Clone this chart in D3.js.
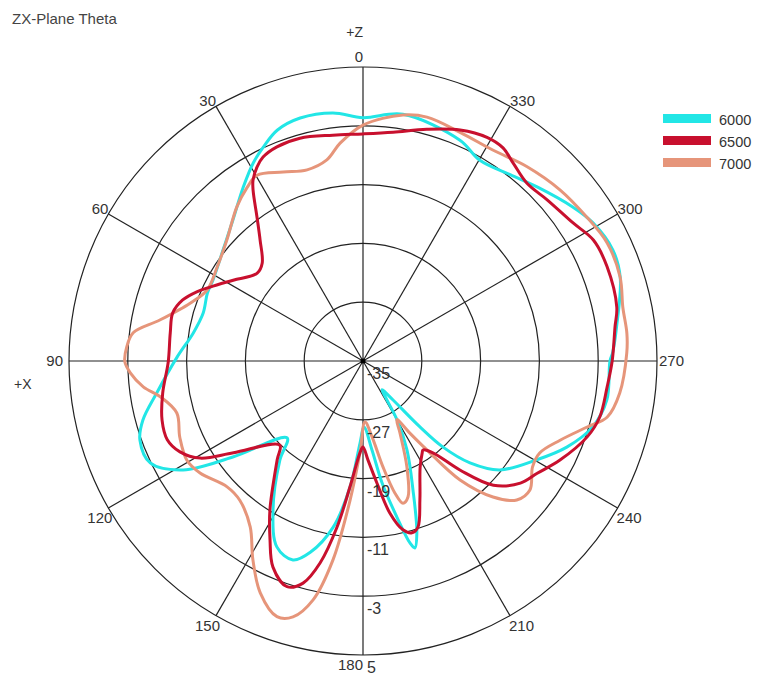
<!DOCTYPE html>
<html><head><meta charset="utf-8">
<script src="https://cdn.jsdelivr.net/npm/d3@7"></script>
<style>
body{margin:0;background:#fff;}
svg{display:block;}
text{font-family:"Liberation Sans",Arial,sans-serif;fill:#333;}
</style>
</head><body>
<svg id="chart" width="757" height="682"></svg>
<script>
const title = "ZX-Plane Theta";
const seriesNames = ["6000", "6500", "7000"];
const seriesColors = ["#22e6e6", "#c8102e", "#e6957a"];
const ringValues = [-35, -27, -19, -11, -3, 5];
const angleTicks = [0, 30, 60, 90, 120, 150, 180, 210, 240, 270, 300, 330];

const angles6000 = [0,6.9,14.5,20.4,25,29,34.6,42.7,51.6,61.6,66.4,73.3,80.6,88.8,98.8,105,109.5,115.6,121.2,126.4,135.4,140,148.9,155.2,160.6,164.6,169.8,174.1,177.9,180.9,185.8,188.9,192.3,194.5,195.5,197.4,201.2,206.3,210,211.6,213.5,217.6,220.8,222.9,226.4,231.5,240.4,247.1,254,261,270,272,277.6,288,294,301,306.3,315,321.7,329.8,336.3,350.8];
const values6000 = [-1.9,-1.0,-0.85,-1.5,-2.9,-4.2,-6.3,-8.9,-10.7,-11.8,-11.9,-12.3,-11.6,-9.7,-6.6,-4.0,-2.8,-2.9,-6.4,-13.0,-20.3,-17.4,-11.3,-7.1,-6.3,-8.0,-12.0,-17.7,-23.8,-26.0,-22.8,-18.2,-13.2,-9.4,-8.6,-10.5,-16.2,-21.5,-25.7,-28.8,-30.3,-28.3,-23.2,-19.0,-14.9,-11.2,-7.8,-4.9,-2.5,-1.4,-1.4,-1.0,-0.2,1.8,2.2,1.5,0.4,-1.5,-2.7,-3.4,-2.2,-1.0];

const angles6500 = [0,7.6,15.8,21.9,26.1,28.6,31.3,32.8,36.4,40.4,45.9,50.3,58.1,64.2,67.4,71.3,75.8,81.7,90.3,99.1,106.4,111.9,116.4,120.8,125.3,135.3,139,148,152.5,156.4,161.4,164.9,168,171.1,174.1,178.1,180,182.9,186.5,190,193.3,195.9,198.3,202.3,208.3,212.7,214,217.3,221.7,226.4,232.2,237.2,243.3,251.3,256.7,263.9,270,277.7,282,291.1,297.7,303.3,311.2,317.3,322.8,326.7,331,337.2,344.6,352.5];
const values6500 = [-4.1,-4.0,-3.5,-3.6,-4.1,-4.9,-6.2,-7.4,-10.7,-13.4,-15.9,-16.3,-14.2,-11.9,-10.5,-9.1,-8.3,-8.5,-8.5,-7.4,-6.5,-6.3,-7.2,-9.2,-13.4,-18.9,-17.2,-11.1,-7.6,-4.4,-2.6,-3.7,-6.9,-12.1,-17.8,-22.5,-23.3,-21.5,-18.3,-14.0,-11.4,-10.7,-11.2,-14.6,-18.6,-20.1,-20.4,-19.3,-15.1,-10.5,-7.9,-6.8,-5.0,-2.8,-1.9,-1.6,-1.1,-0.4,0.3,0.6,0.4,-0.8,-1.7,-2.1,-1.2,-0.3,-0.2,-0.9,-2.3,-3.6];

const angles7000 = [0,6,10.2,16.3,22.9,29.7,33.7,39.3,48.3,57.2,65.5,71.5,78.6,83,86.6,90.2,92.9,96.7,100,105.6,112.6,119.4,124.5,132.8,138.5,145.8,151,156.1,161.4,164.7,168.2,171.4,174.7,178.1,181.9,186.8,190.7,193.6,195.7,198.3,202.5,207.2,210,213,215.7,219.2,223.7,227.9,232.3,238,242.5,248.1,253.6,257.1,262.9,271.7,276,281.7,288.1,295.8,302.7,311,319.8,328.4,337,345.3,350.8];
const values7000 = [-2.9,-5.2,-7.2,-7.9,-7.1,-5.9,-6.6,-7.9,-10.2,-11.4,-11.7,-10.2,-6.8,-3.5,-2.8,-2.6,-3.3,-4.9,-7.0,-8.7,-8.0,-7.5,-8.1,-9.8,-9.7,-7.7,-4.1,-0.5,1.7,1.1,-1.8,-7.6,-16.0,-22.5,-26.7,-24.6,-20.3,-16.5,-14.9,-15.5,-19.4,-24.0,-25.8,-23.3,-20.1,-14.1,-9.4,-6.8,-6.3,-7.8,-7.9,-6.1,-3.2,-0.9,0.2,0.9,1.1,1.1,1.8,1.9,1.2,0.5,-0.4,-1.3,-1.2,-0.7,-1.1];

const seriesAngles = [angles6000, angles6500, angles7000];
const seriesValues = [values6000, values6500, values7000];

const svg = d3.select("#chart");
const cx = 363, cy = 361, R = 294;
const r = d3.scaleLinear().domain([ringValues[0], ringValues[ringValues.length - 1]]).range([0, R]);
const toRad = d => -d * Math.PI / 180;
const pt = (deg, rad) => [cx - rad * Math.sin(deg * Math.PI / 180), cy - rad * Math.cos(deg * Math.PI / 180)];

svg.append("text").attr("x", 12).attr("y", 24).style("font-size", "15px").style("fill", "#444").text(title);

const g = svg.append("g").attr("transform", `translate(${cx},${cy})`);
g.selectAll("circle.ring").data(ringValues.slice(1)).enter().append("circle")
  .attr("r", d => r(d)).attr("fill", "none").attr("stroke", "#222").attr("stroke-width", 1.2);
g.selectAll("line.spoke").data(angleTicks).enter().append("line")
  .attr("x1", 0).attr("y1", 0)
  .attr("x2", d => -R * Math.sin(d * Math.PI / 180))
  .attr("y2", d => -R * Math.cos(d * Math.PI / 180))
  .attr("stroke", "#222").attr("stroke-width", 1.2);
g.append("circle").attr("r", 2.5).attr("fill", "#000");

const order = [0, 2, 1];
order.forEach(i => {
  const pts = seriesAngles[i].map((a, k) => [a, seriesValues[i][k]]);
  const line = d3.lineRadial().angle(d => toRad(d[0])).radius(d => r(d[1])).curve(d3.curveCatmullRomClosed.alpha(0.5));
  g.append("path").attr("d", line(pts)).attr("fill", "none")
    .attr("stroke", seriesColors[i]).attr("stroke-width", 3).attr("stroke-linejoin", "round");
});

svg.selectAll("text.rl").data(ringValues).enter().append("text")
  .attr("x", cx + 4).attr("y", d => cy + r(d) + 18)
  .style("font-size", "16px").text(d => d);

angleTicks.forEach(t => {
  const [px, py] = pt(t, R);
  let anchor, x, y;
  if (t === 0) { anchor = "end"; x = cx; y = py - 5; }
  else if (t === 180) { anchor = "end"; x = cx; y = py + 15; }
  else if (t < 180) { anchor = "end"; x = px + (t === 90 ? -6 : (t > 90 ? 4 : 0)); }
  else { anchor = "start"; x = px + (t === 270 ? 2 : (t < 270 ? -1 : 0)); }
  if (t !== 0 && t !== 180) {
    if (t === 90 || t === 270) y = py + 5;
    else if (t < 90 || t > 270) y = py;
    else y = py + 15;
  }
  svg.append("text").attr("x", x).attr("y", y).attr("text-anchor", anchor).style("font-size", "15px").text(t);
});
svg.append("text").attr("x", cx).attr("y", 37).attr("text-anchor", "end").style("font-size", "14px").text("+Z");
svg.append("text").attr("x", 14).attr("y", 389).style("font-size", "14px").text("+X");

const lg = svg.append("g");
seriesNames.forEach((n, i) => {
  lg.append("rect").attr("x", 663).attr("y", 114 + i * 22).attr("width", 48).attr("height", 9).attr("fill", seriesColors[i]);
  lg.append("text").attr("x", 719).attr("y", 124.5 + i * 22).style("font-size", "14.5px").text(n);
});
</script>
</body></html>
